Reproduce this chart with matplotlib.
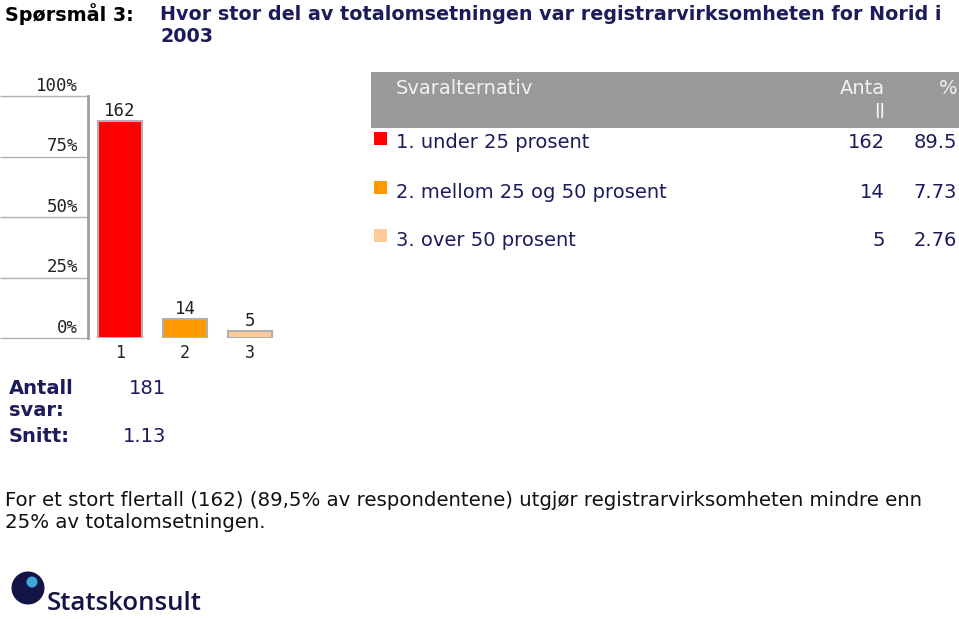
import matplotlib
matplotlib.use("Agg")
import matplotlib.pyplot as plt
from matplotlib.patches import Rectangle, Ellipse

# ---- data ----
bar_labels = ["1", "2", "3"]
categories = ["1. under 25 prosent", "2. mellom 25 og 50 prosent", "3. over 50 prosent"]
counts = [162, 14, 5]
percents = [89.5, 7.73, 2.76]
colors = ["#ff0000", "#ff9900", "#ffcc99"]
y_ticks = [0, 25, 50, 75, 100]
y_tick_labels = ["0%", "25%", "50%", "75%", "100%"]
n_answers = 181
mean_value = "1.13"

W, H = 959, 619
fig = plt.figure(figsize=(W / 100, H / 100), dpi=100)
fig.patch.set_facecolor("white")

def fx(x):
    return x / W

def fy(y):
    return 1 - y / H

NAVY = "#1c1c5c"
FS = 14

# ---- title ----
fig.text(fx(5), fy(14), "Spørsmål 3:", fontsize=13.8, fontweight="bold", color="black",
         va="center", ha="left")
fig.text(fx(160), fy(14), "Hvor stor del av totalomsetningen var registrarvirksomheten for Norid i",
         fontsize=13.8, fontweight="bold", color=NAVY, va="center", ha="left")
fig.text(fx(160), fy(36), "2003", fontsize=13.8, fontweight="bold", color=NAVY, va="center", ha="left")

# ---- bar chart ----
ax_left, ax_right, ax_top, ax_bottom = 88, 280, 96, 338
ax = fig.add_axes([fx(ax_left), fy(ax_bottom), (ax_right - ax_left) / W, (ax_bottom - ax_top) / H])
xpos = list(range(1, len(counts) + 1))
ax.bar(xpos, percents, width=0.677, color=colors, edgecolor="#b0b0b0", linewidth=1.5)
ax.set_xlim(0.508, 3.462)
ax.set_ylim(0, 100)
for s in ["top", "right", "bottom"]:
    ax.spines[s].set_visible(False)
ax.spines["left"].set_color("#a0a0a0")
ax.spines["left"].set_linewidth(2)
ax.set_yticks(y_ticks)
ax.set_yticklabels([])
ax.tick_params(axis="y", length=88 * 0.72, width=1, color="#b0b0b0", direction="out")
ax.set_xticks(xpos)
ax.set_xticklabels(bar_labels, family="DejaVu Sans Mono", fontsize=12, color="#222222")
ax.tick_params(axis="x", length=0, pad=4)
ytrans = ax.get_yaxis_transform()
for v, lab in zip(y_ticks, y_tick_labels):
    ax.annotate(lab, xy=(-10 / (ax_right - ax_left), v), xycoords=ytrans,
                xytext=(0, 1), textcoords="offset points", ha="right", va="bottom",
                family="DejaVu Sans Mono", fontsize=12.5, color="#222222", annotation_clip=False)
for x, p, c in zip(xpos, percents, counts):
    ax.annotate(str(c), xy=(x, p), xytext=(0, 1), textcoords="offset points",
                ha="center", va="bottom", family="DejaVu Sans Mono", fontsize=12.5, color="#222222",
                annotation_clip=False)

# ---- table ----
fig.add_artist(Rectangle((fx(371), fy(128)), fx(959) - fx(371), (128 - 72) / H,
                         transform=fig.transFigure, facecolor="#999999", edgecolor="none"))
fig.text(fx(396), fy(89), "Svaralternativ", fontsize=FS, color="#f2f2f2", va="center", ha="left")
fig.text(fx(885), fy(89), "Anta", fontsize=FS, color="#f2f2f2", va="center", ha="right")
fig.text(fx(885), fy(112), "ll", fontsize=FS, color="#f2f2f2", va="center", ha="right")
fig.text(fx(957), fy(89), "%", fontsize=FS, color="#f2f2f2", va="center", ha="right")

row_y = [143, 192, 240]
for yy, cat, c, p, col in zip(row_y, categories, counts, percents, colors):
    fig.add_artist(Rectangle((fx(374), fy(yy + 2)), 13 / W, 13 / H, transform=fig.transFigure,
                             facecolor=col, edgecolor="none"))
    fig.text(fx(396), fy(yy), cat, fontsize=FS, color=NAVY, va="center", ha="left")
    fig.text(fx(885), fy(yy), str(c), fontsize=FS, color=NAVY, va="center", ha="right")
    fig.text(fx(957), fy(yy), f"{p:g}", fontsize=FS, color=NAVY, va="center", ha="right")

# ---- summary ----
fig.text(fx(9), fy(388), "Antall", fontsize=FS, fontweight="bold", color=NAVY, va="center", ha="left")
fig.text(fx(9), fy(411), "svar:", fontsize=FS, fontweight="bold", color=NAVY, va="center", ha="left")
fig.text(fx(9), fy(436), "Snitt:", fontsize=FS, fontweight="bold", color=NAVY, va="center", ha="left")
fig.text(fx(166), fy(388), str(n_answers), fontsize=FS, color=NAVY, va="center", ha="right")
fig.text(fx(166), fy(436), mean_value, fontsize=FS, color=NAVY, va="center", ha="right")

# ---- comment ----
fig.text(fx(5), fy(500), "For et stort flertall (162) (89,5% av respondentene) utgjør registrarvirksomheten mindre enn",
         fontsize=14.2, color="#111111", va="center", ha="left")
fig.text(fx(5), fy(522), "25% av totalomsetningen.", fontsize=14.2, color="#111111", va="center", ha="left")

# ---- logo ----
fig.add_artist(Ellipse((fx(28), fy(588)), 33 / W, 33 / H, transform=fig.transFigure,
                       facecolor="#141446", edgecolor="none"))
fig.add_artist(Ellipse((fx(32), fy(582)), 11 / W, 11 / H, transform=fig.transFigure,
                       facecolor="#3fa8d8", edgecolor="none"))
fig.text(fx(47), fy(604), "Statskonsult", fontsize=18.5, fontweight="semibold", family="Open Sans",
         color="#141446", va="center", ha="left")

fig.savefig("out.png", dpi=100)
